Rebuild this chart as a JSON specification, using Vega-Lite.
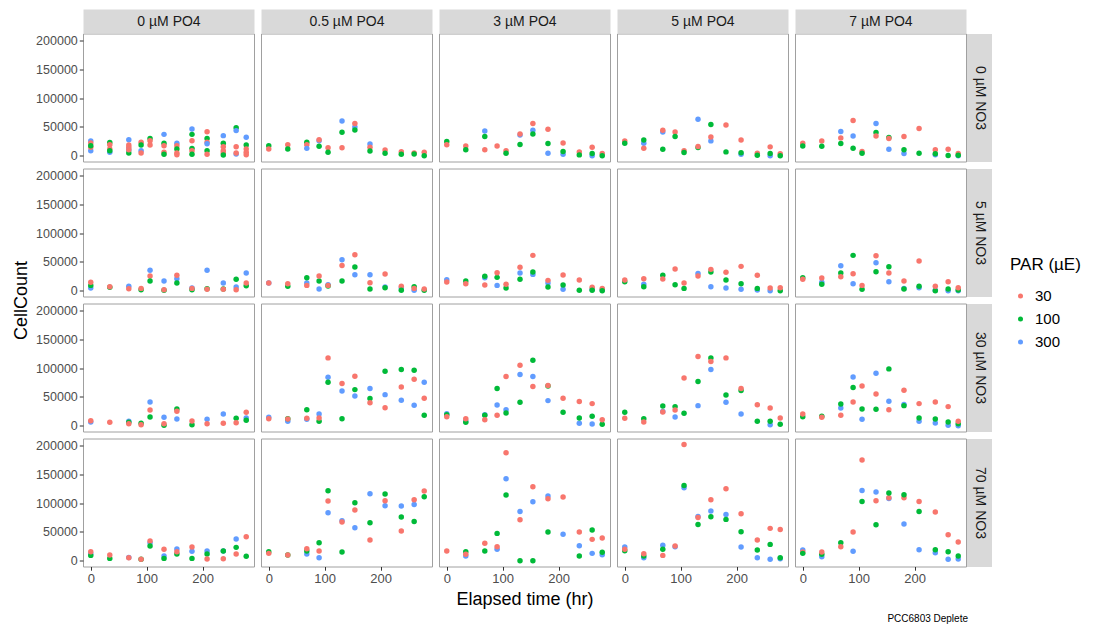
{
"$schema":"https://vega.github.io/schema/vega-lite/v6.json",
"padding":{"left":12,"top":13.5,"right":5,"bottom":4},
"background":"white",
"title":{"text":"PCC6803 Deplete","orient":"bottom","anchor":"end","fontSize":10,"fontWeight":"normal","color":"#000000","font":"Liberation Sans","offset":5,"dx":-113},
"data":{"values":[
{"P":"0","N":"0","t":0,"L":300,"c":25500},{"P":"0","N":"0","t":0,"L":300,"c":8700},{"P":"0","N":"0","t":0,"L":30,"c":22000},{"P":"0","N":"0","t":0,"L":30,"c":14500},{"P":"0","N":"0","t":0,"L":100,"c":17400},
{"P":"0","N":"0","t":34,"L":100,"c":23000},{"P":"0","N":"0","t":34,"L":30,"c":19000},{"P":"0","N":"0","t":34,"L":30,"c":11600},{"P":"0","N":"0","t":34,"L":300,"c":5800},{"P":"0","N":"0","t":34,"L":100,"c":8700},
{"P":"0","N":"0","t":68,"L":300,"c":27800},{"P":"0","N":"0","t":68,"L":30,"c":18500},{"P":"0","N":"0","t":68,"L":30,"c":14500},{"P":"0","N":"0","t":68,"L":300,"c":10000},{"P":"0","N":"0","t":68,"L":100,"c":4600},{"P":"0","N":"0","t":68,"L":30,"c":10400},
{"P":"0","N":"0","t":90,"L":30,"c":23200},{"P":"0","N":"0","t":90,"L":100,"c":18500},{"P":"0","N":"0","t":90,"L":300,"c":8700},{"P":"0","N":"0","t":90,"L":30,"c":4600},
{"P":"0","N":"0","t":106,"L":100,"c":30000},{"P":"0","N":"0","t":106,"L":30,"c":26000},{"P":"0","N":"0","t":106,"L":30,"c":18500},
{"P":"0","N":"0","t":131,"L":300,"c":37000},{"P":"0","N":"0","t":131,"L":100,"c":21400},{"P":"0","N":"0","t":131,"L":30,"c":17400},{"P":"0","N":"0","t":131,"L":30,"c":5800},{"P":"0","N":"0","t":131,"L":100,"c":2300},
{"P":"0","N":"0","t":154,"L":300,"c":21400},{"P":"0","N":"0","t":154,"L":30,"c":17400},{"P":"0","N":"0","t":154,"L":100,"c":11600},{"P":"0","N":"0","t":154,"L":30,"c":4600},{"P":"0","N":"0","t":154,"L":30,"c":1700},
{"P":"0","N":"0","t":181,"L":300,"c":46400},{"P":"0","N":"0","t":181,"L":100,"c":37000},{"P":"0","N":"0","t":181,"L":30,"c":26000},{"P":"0","N":"0","t":181,"L":100,"c":12700},{"P":"0","N":"0","t":181,"L":30,"c":8700},{"P":"0","N":"0","t":181,"L":100,"c":2300},
{"P":"0","N":"0","t":208,"L":30,"c":41700},{"P":"0","N":"0","t":208,"L":100,"c":30000},{"P":"0","N":"0","t":208,"L":30,"c":23200},{"P":"0","N":"0","t":208,"L":300,"c":20900},{"P":"0","N":"0","t":208,"L":100,"c":8700},{"P":"0","N":"0","t":208,"L":30,"c":2300},
{"P":"0","N":"0","t":237,"L":300,"c":34800},{"P":"0","N":"0","t":237,"L":100,"c":21400},{"P":"0","N":"0","t":237,"L":30,"c":15600},{"P":"0","N":"0","t":237,"L":30,"c":8700},{"P":"0","N":"0","t":237,"L":30,"c":4600},{"P":"0","N":"0","t":237,"L":100,"c":1200},
{"P":"0","N":"0","t":260,"L":100,"c":48700},{"P":"0","N":"0","t":260,"L":300,"c":43500},{"P":"0","N":"0","t":260,"L":30,"c":15600},{"P":"0","N":"0","t":260,"L":300,"c":2900},{"P":"0","N":"0","t":260,"L":30,"c":4600},
{"P":"0","N":"0","t":278,"L":300,"c":31900},{"P":"0","N":"0","t":278,"L":100,"c":18500},{"P":"0","N":"0","t":278,"L":30,"c":11600},{"P":"0","N":"0","t":278,"L":30,"c":5800},{"P":"0","N":"0","t":278,"L":30,"c":1700},

{"P":"0.5","N":"0","t":0,"L":100,"c":17400},{"P":"0.5","N":"0","t":0,"L":30,"c":11600},
{"P":"0.5","N":"0","t":34,"L":30,"c":19000},{"P":"0.5","N":"0","t":34,"L":100,"c":11600},
{"P":"0.5","N":"0","t":68,"L":100,"c":23200},{"P":"0.5","N":"0","t":68,"L":30,"c":19000},{"P":"0.5","N":"0","t":68,"L":300,"c":12700},
{"P":"0.5","N":"0","t":90,"L":300,"c":26000},{"P":"0.5","N":"0","t":90,"L":30,"c":27800},{"P":"0.5","N":"0","t":90,"L":100,"c":16200},
{"P":"0.5","N":"0","t":106,"L":30,"c":13900},{"P":"0.5","N":"0","t":106,"L":100,"c":5800},
{"P":"0.5","N":"0","t":131,"L":300,"c":60300},{"P":"0.5","N":"0","t":131,"L":100,"c":40600},{"P":"0.5","N":"0","t":131,"L":30,"c":13900},
{"P":"0.5","N":"0","t":154,"L":300,"c":49900},{"P":"0.5","N":"0","t":154,"L":30,"c":55700},{"P":"0.5","N":"0","t":154,"L":100,"c":44600},
{"P":"0.5","N":"0","t":181,"L":300,"c":20300},{"P":"0.5","N":"0","t":181,"L":30,"c":14500},{"P":"0.5","N":"0","t":181,"L":100,"c":8100},
{"P":"0.5","N":"0","t":208,"L":30,"c":9900},{"P":"0.5","N":"0","t":208,"L":100,"c":4100},
{"P":"0.5","N":"0","t":237,"L":30,"c":7000},{"P":"0.5","N":"0","t":237,"L":100,"c":2300},
{"P":"0.5","N":"0","t":260,"L":30,"c":4600},{"P":"0.5","N":"0","t":260,"L":100,"c":2900},
{"P":"0.5","N":"0","t":278,"L":30,"c":5800},{"P":"0.5","N":"0","t":278,"L":100,"c":0},

{"P":"3","N":"0","t":0,"L":100,"c":24500},{"P":"3","N":"0","t":0,"L":30,"c":18800},
{"P":"3","N":"0","t":34,"L":30,"c":17000},{"P":"3","N":"0","t":34,"L":100,"c":10100},
{"P":"3","N":"0","t":68,"L":300,"c":43000},{"P":"3","N":"0","t":68,"L":100,"c":33200},{"P":"3","N":"0","t":68,"L":30,"c":10100},
{"P":"3","N":"0","t":90,"L":30,"c":17000},
{"P":"3","N":"0","t":106,"L":30,"c":8400},{"P":"3","N":"0","t":106,"L":100,"c":4300},
{"P":"3","N":"0","t":131,"L":300,"c":36100},{"P":"3","N":"0","t":131,"L":30,"c":37800},{"P":"3","N":"0","t":131,"L":100,"c":19300},
{"P":"3","N":"0","t":154,"L":30,"c":55700},{"P":"3","N":"0","t":154,"L":300,"c":44100},{"P":"3","N":"0","t":154,"L":100,"c":37800},
{"P":"3","N":"0","t":181,"L":30,"c":45900},{"P":"3","N":"0","t":181,"L":100,"c":21100},{"P":"3","N":"0","t":181,"L":300,"c":4300},
{"P":"3","N":"0","t":208,"L":30,"c":22200},{"P":"3","N":"0","t":208,"L":300,"c":2600},{"P":"3","N":"0","t":208,"L":100,"c":7200},
{"P":"3","N":"0","t":237,"L":30,"c":6600},{"P":"3","N":"0","t":237,"L":100,"c":1400},
{"P":"3","N":"0","t":260,"L":30,"c":14700},{"P":"3","N":"0","t":260,"L":300,"c":0},{"P":"3","N":"0","t":260,"L":100,"c":3800},
{"P":"3","N":"0","t":278,"L":30,"c":3800},{"P":"3","N":"0","t":278,"L":100,"c":0},

{"P":"5","N":"0","t":0,"L":30,"c":25700},{"P":"5","N":"0","t":0,"L":100,"c":21600},
{"P":"5","N":"0","t":34,"L":300,"c":21600},{"P":"5","N":"0","t":34,"L":100,"c":27400},{"P":"5","N":"0","t":34,"L":30,"c":13000},
{"P":"5","N":"0","t":68,"L":300,"c":41300},{"P":"5","N":"0","t":68,"L":30,"c":44100},{"P":"5","N":"0","t":68,"L":100,"c":11200},
{"P":"5","N":"0","t":90,"L":30,"c":41300},{"P":"5","N":"0","t":90,"L":100,"c":33200},
{"P":"5","N":"0","t":106,"L":30,"c":8400},{"P":"5","N":"0","t":106,"L":100,"c":5500},
{"P":"5","N":"0","t":131,"L":300,"c":63200},{"P":"5","N":"0","t":131,"L":100,"c":14000},{"P":"5","N":"0","t":131,"L":30,"c":15800},
{"P":"5","N":"0","t":154,"L":300,"c":25700},{"P":"5","N":"0","t":154,"L":100,"c":54000},{"P":"5","N":"0","t":154,"L":30,"c":32600},
{"P":"5","N":"0","t":181,"L":30,"c":53400},{"P":"5","N":"0","t":181,"L":100,"c":6600},
{"P":"5","N":"0","t":208,"L":30,"c":27400},{"P":"5","N":"0","t":208,"L":300,"c":2600},{"P":"5","N":"0","t":208,"L":100,"c":4900},
{"P":"5","N":"0","t":237,"L":30,"c":4300},{"P":"5","N":"0","t":237,"L":100,"c":900},
{"P":"5","N":"0","t":260,"L":30,"c":15300},{"P":"5","N":"0","t":260,"L":300,"c":0},{"P":"5","N":"0","t":260,"L":100,"c":3800},
{"P":"5","N":"0","t":278,"L":30,"c":3200},{"P":"5","N":"0","t":278,"L":100,"c":0},

{"P":"7","N":"0","t":0,"L":30,"c":21600},{"P":"7","N":"0","t":0,"L":100,"c":17000},
{"P":"7","N":"0","t":34,"L":30,"c":25700},{"P":"7","N":"0","t":34,"L":100,"c":16400},
{"P":"7","N":"0","t":68,"L":300,"c":41800},{"P":"7","N":"0","t":68,"L":30,"c":30900},{"P":"7","N":"0","t":68,"L":100,"c":21100},
{"P":"7","N":"0","t":90,"L":30,"c":60900},{"P":"7","N":"0","t":90,"L":300,"c":34300},{"P":"7","N":"0","t":90,"L":100,"c":13000},
{"P":"7","N":"0","t":106,"L":30,"c":7200},{"P":"7","N":"0","t":106,"L":100,"c":4300},
{"P":"7","N":"0","t":131,"L":300,"c":55700},{"P":"7","N":"0","t":131,"L":100,"c":40100},{"P":"7","N":"0","t":131,"L":30,"c":34300},
{"P":"7","N":"0","t":154,"L":100,"c":31500},{"P":"7","N":"0","t":154,"L":30,"c":29700},{"P":"7","N":"0","t":154,"L":300,"c":11200},
{"P":"7","N":"0","t":181,"L":30,"c":33200},{"P":"7","N":"0","t":181,"L":300,"c":3800},{"P":"7","N":"0","t":181,"L":100,"c":10100},
{"P":"7","N":"0","t":208,"L":30,"c":47000},{"P":"7","N":"0","t":208,"L":100,"c":4300},
{"P":"7","N":"0","t":237,"L":300,"c":1500},{"P":"7","N":"0","t":237,"L":30,"c":10100},{"P":"7","N":"0","t":237,"L":100,"c":3200},
{"P":"7","N":"0","t":260,"L":30,"c":11200},{"P":"7","N":"0","t":260,"L":100,"c":300},
{"P":"7","N":"0","t":278,"L":300,"c":0},{"P":"7","N":"0","t":278,"L":30,"c":3800},{"P":"7","N":"0","t":278,"L":100,"c":900},

{"P":"0","N":"5","t":0,"L":300,"c":4600},{"P":"0","N":"5","t":0,"L":100,"c":9200},{"P":"0","N":"5","t":0,"L":30,"c":14500},
{"P":"0","N":"5","t":34,"L":100,"c":5800},{"P":"0","N":"5","t":34,"L":30,"c":6900},
{"P":"0","N":"5","t":68,"L":300,"c":7500},{"P":"0","N":"5","t":68,"L":30,"c":3500},
{"P":"0","N":"5","t":90,"L":100,"c":1700},{"P":"0","N":"5","t":90,"L":30,"c":4000},
{"P":"0","N":"5","t":106,"L":300,"c":35300},{"P":"0","N":"5","t":106,"L":30,"c":25400},{"P":"0","N":"5","t":106,"L":100,"c":16800},
{"P":"0","N":"5","t":131,"L":300,"c":16800},{"P":"0","N":"5","t":131,"L":100,"c":600},{"P":"0","N":"5","t":131,"L":30,"c":1700},
{"P":"0","N":"5","t":154,"L":300,"c":20800},{"P":"0","N":"5","t":154,"L":30,"c":26600},{"P":"0","N":"5","t":154,"L":100,"c":13300},
{"P":"0","N":"5","t":181,"L":300,"c":4600},{"P":"0","N":"5","t":181,"L":100,"c":1700},{"P":"0","N":"5","t":181,"L":30,"c":4000},
{"P":"0","N":"5","t":208,"L":300,"c":35300},{"P":"0","N":"5","t":208,"L":100,"c":3500},{"P":"0","N":"5","t":208,"L":30,"c":2300},
{"P":"0","N":"5","t":237,"L":300,"c":13300},{"P":"0","N":"5","t":237,"L":100,"c":2900},{"P":"0","N":"5","t":237,"L":30,"c":2300},
{"P":"0","N":"5","t":260,"L":300,"c":6400},{"P":"0","N":"5","t":260,"L":100,"c":19700},{"P":"0","N":"5","t":260,"L":30,"c":1700},
{"P":"0","N":"5","t":278,"L":300,"c":30600},{"P":"0","N":"5","t":278,"L":100,"c":8700},{"P":"0","N":"5","t":278,"L":30,"c":13300},

{"P":"0.5","N":"5","t":0,"L":300,"c":13500},{"P":"0.5","N":"5","t":0,"L":30,"c":13300},
{"P":"0.5","N":"5","t":34,"L":100,"c":7500},{"P":"0.5","N":"5","t":34,"L":30,"c":12100},
{"P":"0.5","N":"5","t":68,"L":300,"c":13300},{"P":"0.5","N":"5","t":68,"L":100,"c":22500},{"P":"0.5","N":"5","t":68,"L":30,"c":9200},
{"P":"0.5","N":"5","t":90,"L":300,"c":2900},{"P":"0.5","N":"5","t":90,"L":100,"c":16800},{"P":"0.5","N":"5","t":90,"L":30,"c":25400},
{"P":"0.5","N":"5","t":106,"L":300,"c":10400},{"P":"0.5","N":"5","t":106,"L":100,"c":8000},{"P":"0.5","N":"5","t":106,"L":30,"c":9200},
{"P":"0.5","N":"5","t":131,"L":300,"c":53800},{"P":"0.5","N":"5","t":131,"L":30,"c":43900},{"P":"0.5","N":"5","t":131,"L":100,"c":16800},
{"P":"0.5","N":"5","t":154,"L":300,"c":27700},{"P":"0.5","N":"5","t":154,"L":100,"c":41000},{"P":"0.5","N":"5","t":154,"L":30,"c":62400},
{"P":"0.5","N":"5","t":181,"L":300,"c":27700},{"P":"0.5","N":"5","t":181,"L":30,"c":13900},{"P":"0.5","N":"5","t":181,"L":100,"c":2900},
{"P":"0.5","N":"5","t":208,"L":300,"c":6400},{"P":"0.5","N":"5","t":208,"L":100,"c":5200},{"P":"0.5","N":"5","t":208,"L":30,"c":28900},
{"P":"0.5","N":"5","t":237,"L":300,"c":4600},{"P":"0.5","N":"5","t":237,"L":30,"c":7500},{"P":"0.5","N":"5","t":237,"L":100,"c":600},
{"P":"0.5","N":"5","t":260,"L":300,"c":600},{"P":"0.5","N":"5","t":260,"L":100,"c":6900},{"P":"0.5","N":"5","t":260,"L":30,"c":4000},
{"P":"0.5","N":"5","t":278,"L":100,"c":600},{"P":"0.5","N":"5","t":278,"L":30,"c":2900},

{"P":"3","N":"5","t":0,"L":300,"c":19100},{"P":"3","N":"5","t":0,"L":30,"c":15000},
{"P":"3","N":"5","t":34,"L":100,"c":16800},{"P":"3","N":"5","t":34,"L":30,"c":12100},
{"P":"3","N":"5","t":68,"L":300,"c":22500},{"P":"3","N":"5","t":68,"L":100,"c":24900},{"P":"3","N":"5","t":68,"L":30,"c":9800},
{"P":"3","N":"5","t":90,"L":300,"c":9200},{"P":"3","N":"5","t":90,"L":100,"c":23100},{"P":"3","N":"5","t":90,"L":30,"c":31200},
{"P":"3","N":"5","t":106,"L":100,"c":4600},{"P":"3","N":"5","t":106,"L":30,"c":11000},
{"P":"3","N":"5","t":131,"L":300,"c":30600},{"P":"3","N":"5","t":131,"L":100,"c":19700},{"P":"3","N":"5","t":131,"L":30,"c":40500},
{"P":"3","N":"5","t":154,"L":300,"c":28300},{"P":"3","N":"5","t":154,"L":100,"c":32400},{"P":"3","N":"5","t":154,"L":30,"c":61300},
{"P":"3","N":"5","t":181,"L":300,"c":13300},{"P":"3","N":"5","t":181,"L":100,"c":6400},{"P":"3","N":"5","t":181,"L":30,"c":17900},
{"P":"3","N":"5","t":208,"L":300,"c":2300},{"P":"3","N":"5","t":208,"L":100,"c":9800},{"P":"3","N":"5","t":208,"L":30,"c":27200},
{"P":"3","N":"5","t":237,"L":30,"c":18500},{"P":"3","N":"5","t":237,"L":100,"c":600},
{"P":"3","N":"5","t":260,"L":300,"c":2300},{"P":"3","N":"5","t":260,"L":30,"c":5800},{"P":"3","N":"5","t":260,"L":100,"c":600},
{"P":"3","N":"5","t":278,"L":300,"c":1800},{"P":"3","N":"5","t":278,"L":30,"c":4000},{"P":"3","N":"5","t":278,"L":100,"c":0},

{"P":"5","N":"5","t":0,"L":100,"c":15600},{"P":"5","N":"5","t":0,"L":30,"c":18500},
{"P":"5","N":"5","t":34,"L":300,"c":11000},{"P":"5","N":"5","t":34,"L":100,"c":6900},{"P":"5","N":"5","t":34,"L":30,"c":20800},
{"P":"5","N":"5","t":68,"L":100,"c":26600},{"P":"5","N":"5","t":68,"L":30,"c":20200},
{"P":"5","N":"5","t":90,"L":100,"c":10400},{"P":"5","N":"5","t":90,"L":30,"c":37600},
{"P":"5","N":"5","t":106,"L":100,"c":4000},{"P":"5","N":"5","t":106,"L":30,"c":13300},
{"P":"5","N":"5","t":131,"L":300,"c":30000},{"P":"5","N":"5","t":131,"L":30,"c":25400},
{"P":"5","N":"5","t":154,"L":300,"c":6900},{"P":"5","N":"5","t":154,"L":100,"c":32400},{"P":"5","N":"5","t":154,"L":30,"c":37000},
{"P":"5","N":"5","t":181,"L":300,"c":4600},{"P":"5","N":"5","t":181,"L":100,"c":18500},{"P":"5","N":"5","t":181,"L":30,"c":31800},
{"P":"5","N":"5","t":208,"L":300,"c":2300},{"P":"5","N":"5","t":208,"L":100,"c":12100},{"P":"5","N":"5","t":208,"L":30,"c":42200},
{"P":"5","N":"5","t":237,"L":300,"c":1200},{"P":"5","N":"5","t":237,"L":100,"c":4000},{"P":"5","N":"5","t":237,"L":30,"c":26600},
{"P":"5","N":"5","t":260,"L":300,"c":0},{"P":"5","N":"5","t":260,"L":30,"c":4600},
{"P":"5","N":"5","t":278,"L":100,"c":0},{"P":"5","N":"5","t":278,"L":30,"c":5200},

{"P":"7","N":"5","t":0,"L":100,"c":22500},{"P":"7","N":"5","t":0,"L":30,"c":19700},
{"P":"7","N":"5","t":34,"L":300,"c":14500},{"P":"7","N":"5","t":34,"L":100,"c":11000},{"P":"7","N":"5","t":34,"L":30,"c":22000},
{"P":"7","N":"5","t":68,"L":300,"c":43300},{"P":"7","N":"5","t":68,"L":100,"c":30600},{"P":"7","N":"5","t":68,"L":30,"c":24300},
{"P":"7","N":"5","t":90,"L":300,"c":12100},{"P":"7","N":"5","t":90,"L":100,"c":61300},{"P":"7","N":"5","t":90,"L":30,"c":29500},
{"P":"7","N":"5","t":106,"L":100,"c":2300},{"P":"7","N":"5","t":106,"L":30,"c":9200},
{"P":"7","N":"5","t":131,"L":300,"c":48600},{"P":"7","N":"5","t":131,"L":100,"c":32900},{"P":"7","N":"5","t":131,"L":30,"c":60700},
{"P":"7","N":"5","t":154,"L":300,"c":15600},{"P":"7","N":"5","t":154,"L":100,"c":41600},{"P":"7","N":"5","t":154,"L":30,"c":30600},
{"P":"7","N":"5","t":181,"L":300,"c":4000},{"P":"7","N":"5","t":181,"L":100,"c":2900},{"P":"7","N":"5","t":181,"L":30,"c":16800},
{"P":"7","N":"5","t":208,"L":300,"c":5200},{"P":"7","N":"5","t":208,"L":100,"c":7500},{"P":"7","N":"5","t":208,"L":30,"c":51400},
{"P":"7","N":"5","t":237,"L":300,"c":600},{"P":"7","N":"5","t":237,"L":100,"c":0},{"P":"7","N":"5","t":237,"L":30,"c":7500},
{"P":"7","N":"5","t":260,"L":300,"c":0},{"P":"7","N":"5","t":260,"L":100,"c":2900},{"P":"7","N":"5","t":260,"L":30,"c":15600},
{"P":"7","N":"5","t":278,"L":300,"c":0},{"P":"7","N":"5","t":278,"L":100,"c":1200},{"P":"7","N":"5","t":278,"L":30,"c":5200},

{"P":"0","N":"30","t":0,"L":300,"c":6400},{"P":"0","N":"30","t":0,"L":30,"c":8700},
{"P":"0","N":"30","t":34,"L":30,"c":5800},
{"P":"0","N":"30","t":68,"L":300,"c":7500},{"P":"0","N":"30","t":68,"L":100,"c":5800},{"P":"0","N":"30","t":68,"L":30,"c":3500},
{"P":"0","N":"30","t":90,"L":100,"c":4100},{"P":"0","N":"30","t":90,"L":30,"c":1700},
{"P":"0","N":"30","t":106,"L":300,"c":41200},{"P":"0","N":"30","t":106,"L":30,"c":27300},{"P":"0","N":"30","t":106,"L":100,"c":15100},
{"P":"0","N":"30","t":131,"L":300,"c":14500},{"P":"0","N":"30","t":131,"L":100,"c":600},{"P":"0","N":"30","t":131,"L":30,"c":3500},
{"P":"0","N":"30","t":154,"L":300,"c":11600},{"P":"0","N":"30","t":154,"L":100,"c":29000},{"P":"0","N":"30","t":154,"L":30,"c":24900},
{"P":"0","N":"30","t":181,"L":100,"c":1700},{"P":"0","N":"30","t":181,"L":30,"c":8100},
{"P":"0","N":"30","t":208,"L":300,"c":11000},{"P":"0","N":"30","t":208,"L":30,"c":3500},
{"P":"0","N":"30","t":237,"L":300,"c":20300},{"P":"0","N":"30","t":237,"L":30,"c":4100},
{"P":"0","N":"30","t":260,"L":100,"c":12800},{"P":"0","N":"30","t":260,"L":30,"c":5200},
{"P":"0","N":"30","t":278,"L":300,"c":13300},{"P":"0","N":"30","t":278,"L":100,"c":9300},{"P":"0","N":"30","t":278,"L":30,"c":23200},

{"P":"0.5","N":"30","t":0,"L":300,"c":14500},{"P":"0.5","N":"30","t":0,"L":30,"c":12200},
{"P":"0.5","N":"30","t":34,"L":300,"c":7500},{"P":"0.5","N":"30","t":34,"L":100,"c":12200},{"P":"0.5","N":"30","t":34,"L":30,"c":11600},
{"P":"0.5","N":"30","t":68,"L":300,"c":11000},{"P":"0.5","N":"30","t":68,"L":100,"c":27800},{"P":"0.5","N":"30","t":68,"L":30,"c":12800},
{"P":"0.5","N":"30","t":90,"L":300,"c":20300},{"P":"0.5","N":"30","t":90,"L":100,"c":7500},{"P":"0.5","N":"30","t":90,"L":30,"c":13300},
{"P":"0.5","N":"30","t":106,"L":300,"c":84100},{"P":"0.5","N":"30","t":106,"L":100,"c":75400},{"P":"0.5","N":"30","t":106,"L":30,"c":117700},
{"P":"0.5","N":"30","t":131,"L":300,"c":60300},{"P":"0.5","N":"30","t":131,"L":100,"c":12200},{"P":"0.5","N":"30","t":131,"L":30,"c":73100},
{"P":"0.5","N":"30","t":154,"L":300,"c":51600},{"P":"0.5","N":"30","t":154,"L":100,"c":62600},{"P":"0.5","N":"30","t":154,"L":30,"c":85800},
{"P":"0.5","N":"30","t":181,"L":300,"c":64400},{"P":"0.5","N":"30","t":181,"L":100,"c":47000},{"P":"0.5","N":"30","t":181,"L":30,"c":40000},
{"P":"0.5","N":"30","t":208,"L":300,"c":53900},{"P":"0.5","N":"30","t":208,"L":100,"c":94500},{"P":"0.5","N":"30","t":208,"L":30,"c":31300},
{"P":"0.5","N":"30","t":237,"L":300,"c":44100},{"P":"0.5","N":"30","t":237,"L":100,"c":97400},{"P":"0.5","N":"30","t":237,"L":30,"c":67300},
{"P":"0.5","N":"30","t":260,"L":300,"c":35400},{"P":"0.5","N":"30","t":260,"L":100,"c":96300},{"P":"0.5","N":"30","t":260,"L":30,"c":80600},
{"P":"0.5","N":"30","t":278,"L":300,"c":75400},{"P":"0.5","N":"30","t":278,"L":100,"c":18000},{"P":"0.5","N":"30","t":278,"L":30,"c":47600},

{"P":"3","N":"30","t":0,"L":300,"c":20900},{"P":"3","N":"30","t":0,"L":100,"c":19100},{"P":"3","N":"30","t":0,"L":30,"c":15700},
{"P":"3","N":"30","t":34,"L":300,"c":8000},{"P":"3","N":"30","t":34,"L":100,"c":5800},{"P":"3","N":"30","t":34,"L":30,"c":12200},
{"P":"3","N":"30","t":68,"L":300,"c":19100},{"P":"3","N":"30","t":68,"L":100,"c":18000},{"P":"3","N":"30","t":68,"L":30,"c":10400},
{"P":"3","N":"30","t":90,"L":300,"c":36000},{"P":"3","N":"30","t":90,"L":100,"c":64400},{"P":"3","N":"30","t":90,"L":30,"c":18000},
{"P":"3","N":"30","t":106,"L":300,"c":27800},{"P":"3","N":"30","t":106,"L":100,"c":22000},{"P":"3","N":"30","t":106,"L":30,"c":85300},
{"P":"3","N":"30","t":131,"L":300,"c":88700},{"P":"3","N":"30","t":131,"L":100,"c":40600},{"P":"3","N":"30","t":131,"L":30,"c":105000},
{"P":"3","N":"30","t":154,"L":300,"c":85300},{"P":"3","N":"30","t":154,"L":100,"c":113700},{"P":"3","N":"30","t":154,"L":30,"c":67900},
{"P":"3","N":"30","t":181,"L":300,"c":43500},{"P":"3","N":"30","t":181,"L":100,"c":69000},{"P":"3","N":"30","t":181,"L":30,"c":69600},
{"P":"3","N":"30","t":208,"L":100,"c":23200},{"P":"3","N":"30","t":208,"L":30,"c":47600},
{"P":"3","N":"30","t":237,"L":300,"c":4100},{"P":"3","N":"30","t":237,"L":100,"c":13300},{"P":"3","N":"30","t":237,"L":30,"c":41800},
{"P":"3","N":"30","t":260,"L":300,"c":2900},{"P":"3","N":"30","t":260,"L":100,"c":16200},{"P":"3","N":"30","t":260,"L":30,"c":38300},
{"P":"3","N":"30","t":278,"L":100,"c":2300},{"P":"3","N":"30","t":278,"L":30,"c":10400},

{"P":"5","N":"30","t":0,"L":100,"c":23200},{"P":"5","N":"30","t":0,"L":30,"c":12800},
{"P":"5","N":"30","t":34,"L":100,"c":12200},{"P":"5","N":"30","t":34,"L":30,"c":6400},
{"P":"5","N":"30","t":68,"L":300,"c":24500},{"P":"5","N":"30","t":68,"L":100,"c":34200},{"P":"5","N":"30","t":68,"L":30,"c":23800},
{"P":"5","N":"30","t":90,"L":300,"c":15100},{"P":"5","N":"30","t":90,"L":100,"c":33100},{"P":"5","N":"30","t":90,"L":30,"c":27300},
{"P":"5","N":"30","t":106,"L":100,"c":21500},{"P":"5","N":"30","t":106,"L":30,"c":82900},
{"P":"5","N":"30","t":131,"L":300,"c":34800},{"P":"5","N":"30","t":131,"L":100,"c":76600},{"P":"5","N":"30","t":131,"L":30,"c":120100},
{"P":"5","N":"30","t":154,"L":300,"c":97400},{"P":"5","N":"30","t":154,"L":100,"c":117700},{"P":"5","N":"30","t":154,"L":30,"c":111400},
{"P":"5","N":"30","t":181,"L":300,"c":40600},{"P":"5","N":"30","t":181,"L":100,"c":53400},{"P":"5","N":"30","t":181,"L":30,"c":117700},
{"P":"5","N":"30","t":208,"L":300,"c":20300},{"P":"5","N":"30","t":208,"L":100,"c":60900},{"P":"5","N":"30","t":208,"L":30,"c":64400},
{"P":"5","N":"30","t":237,"L":100,"c":7500},{"P":"5","N":"30","t":237,"L":30,"c":36500},
{"P":"5","N":"30","t":260,"L":300,"c":1700},{"P":"5","N":"30","t":260,"L":100,"c":7500},{"P":"5","N":"30","t":260,"L":30,"c":30700},
{"P":"5","N":"30","t":278,"L":100,"c":2300},{"P":"5","N":"30","t":278,"L":30,"c":13300},

{"P":"7","N":"30","t":0,"L":100,"c":15700},{"P":"7","N":"30","t":0,"L":30,"c":20300},
{"P":"7","N":"30","t":34,"L":100,"c":16200},{"P":"7","N":"30","t":34,"L":30,"c":14500},
{"P":"7","N":"30","t":68,"L":300,"c":30700},{"P":"7","N":"30","t":68,"L":100,"c":37700},{"P":"7","N":"30","t":68,"L":30,"c":18000},
{"P":"7","N":"30","t":90,"L":300,"c":84700},{"P":"7","N":"30","t":90,"L":100,"c":66100},{"P":"7","N":"30","t":90,"L":30,"c":41200},
{"P":"7","N":"30","t":106,"L":300,"c":11000},{"P":"7","N":"30","t":106,"L":100,"c":29000},{"P":"7","N":"30","t":106,"L":30,"c":69000},
{"P":"7","N":"30","t":131,"L":300,"c":91100},{"P":"7","N":"30","t":131,"L":100,"c":28400},{"P":"7","N":"30","t":131,"L":30,"c":55100},
{"P":"7","N":"30","t":154,"L":300,"c":42300},{"P":"7","N":"30","t":154,"L":100,"c":98600},{"P":"7","N":"30","t":154,"L":30,"c":27800},
{"P":"7","N":"30","t":181,"L":300,"c":37000},{"P":"7","N":"30","t":181,"L":100,"c":34800},{"P":"7","N":"30","t":181,"L":30,"c":61500},
{"P":"7","N":"30","t":208,"L":300,"c":7500},{"P":"7","N":"30","t":208,"L":100,"c":13300},{"P":"7","N":"30","t":208,"L":30,"c":38300},
{"P":"7","N":"30","t":237,"L":300,"c":4600},{"P":"7","N":"30","t":237,"L":100,"c":11600},{"P":"7","N":"30","t":237,"L":30,"c":41200},
{"P":"7","N":"30","t":260,"L":300,"c":600},{"P":"7","N":"30","t":260,"L":100,"c":6400},{"P":"7","N":"30","t":260,"L":30,"c":33100},
{"P":"7","N":"30","t":278,"L":300,"c":0},{"P":"7","N":"30","t":278,"L":100,"c":3500},{"P":"7","N":"30","t":278,"L":30,"c":7500},

{"P":"0","N":"70","t":0,"L":300,"c":12000},{"P":"0","N":"70","t":0,"L":100,"c":9200},{"P":"0","N":"70","t":0,"L":30,"c":15600},
{"P":"0","N":"70","t":34,"L":100,"c":4000},{"P":"0","N":"70","t":34,"L":30,"c":9800},
{"P":"0","N":"70","t":68,"L":300,"c":5500},{"P":"0","N":"70","t":68,"L":30,"c":5200},
{"P":"0","N":"70","t":90,"L":100,"c":2300},{"P":"0","N":"70","t":90,"L":30,"c":2300},
{"P":"0","N":"70","t":106,"L":300,"c":31200},{"P":"0","N":"70","t":106,"L":30,"c":34100},{"P":"0","N":"70","t":106,"L":100,"c":25400},
{"P":"0","N":"70","t":131,"L":300,"c":8100},{"P":"0","N":"70","t":131,"L":100,"c":4000},{"P":"0","N":"70","t":131,"L":30,"c":19700},
{"P":"0","N":"70","t":154,"L":300,"c":20200},{"P":"0","N":"70","t":154,"L":100,"c":11600},{"P":"0","N":"70","t":154,"L":30,"c":15600},
{"P":"0","N":"70","t":181,"L":300,"c":16200},{"P":"0","N":"70","t":181,"L":100,"c":4000},{"P":"0","N":"70","t":181,"L":30,"c":23700},
{"P":"0","N":"70","t":208,"L":300,"c":16800},{"P":"0","N":"70","t":208,"L":100,"c":11600},{"P":"0","N":"70","t":208,"L":30,"c":2900},
{"P":"0","N":"70","t":237,"L":300,"c":16800},{"P":"0","N":"70","t":237,"L":100,"c":16800},{"P":"0","N":"70","t":237,"L":30,"c":3500},
{"P":"0","N":"70","t":260,"L":300,"c":37600},{"P":"0","N":"70","t":260,"L":100,"c":23100},{"P":"0","N":"70","t":260,"L":30,"c":11600},
{"P":"0","N":"70","t":278,"L":100,"c":7500},{"P":"0","N":"70","t":278,"L":30,"c":41600},

{"P":"0.5","N":"70","t":0,"L":100,"c":15600},{"P":"0.5","N":"70","t":0,"L":30,"c":12700},
{"P":"0.5","N":"70","t":34,"L":100,"c":10000},{"P":"0.5","N":"70","t":34,"L":30,"c":9800},
{"P":"0.5","N":"70","t":68,"L":300,"c":11600},{"P":"0.5","N":"70","t":68,"L":100,"c":17000},{"P":"0.5","N":"70","t":68,"L":30,"c":20800},
{"P":"0.5","N":"70","t":90,"L":300,"c":5200},{"P":"0.5","N":"70","t":90,"L":100,"c":31200},{"P":"0.5","N":"70","t":90,"L":30,"c":16800},
{"P":"0.5","N":"70","t":106,"L":300,"c":83200},{"P":"0.5","N":"70","t":106,"L":100,"c":121400},{"P":"0.5","N":"70","t":106,"L":30,"c":103500},
{"P":"0.5","N":"70","t":131,"L":300,"c":69400},{"P":"0.5","N":"70","t":131,"L":100,"c":15000},{"P":"0.5","N":"70","t":131,"L":30,"c":67000},
{"P":"0.5","N":"70","t":154,"L":300,"c":57200},{"P":"0.5","N":"70","t":154,"L":100,"c":100600},{"P":"0.5","N":"70","t":154,"L":30,"c":87900},
{"P":"0.5","N":"70","t":181,"L":300,"c":116200},{"P":"0.5","N":"70","t":181,"L":100,"c":65900},{"P":"0.5","N":"70","t":181,"L":30,"c":35800},
{"P":"0.5","N":"70","t":208,"L":300,"c":95400},{"P":"0.5","N":"70","t":208,"L":100,"c":115600},{"P":"0.5","N":"70","t":208,"L":30,"c":104000},
{"P":"0.5","N":"70","t":237,"L":300,"c":94800},{"P":"0.5","N":"70","t":237,"L":100,"c":75700},{"P":"0.5","N":"70","t":237,"L":30,"c":51400},
{"P":"0.5","N":"70","t":260,"L":300,"c":97700},{"P":"0.5","N":"70","t":260,"L":100,"c":68200},{"P":"0.5","N":"70","t":260,"L":30,"c":105800},
{"P":"0.5","N":"70","t":278,"L":100,"c":111000},{"P":"0.5","N":"70","t":278,"L":30,"c":120800},

{"P":"3","N":"70","t":0,"L":30,"c":16800},
{"P":"3","N":"70","t":34,"L":300,"c":8100},{"P":"3","N":"70","t":34,"L":100,"c":15600},{"P":"3","N":"70","t":34,"L":30,"c":11000},
{"P":"3","N":"70","t":68,"L":100,"c":16800},{"P":"3","N":"70","t":68,"L":30,"c":30100},
{"P":"3","N":"70","t":90,"L":300,"c":19700},{"P":"3","N":"70","t":90,"L":100,"c":47400},{"P":"3","N":"70","t":90,"L":30,"c":24300},
{"P":"3","N":"70","t":106,"L":300,"c":142200},{"P":"3","N":"70","t":106,"L":100,"c":113900},{"P":"3","N":"70","t":106,"L":30,"c":187300},
{"P":"3","N":"70","t":131,"L":300,"c":85500},{"P":"3","N":"70","t":131,"L":100,"c":0},{"P":"3","N":"70","t":131,"L":30,"c":71100},
{"P":"3","N":"70","t":154,"L":300,"c":102300},{"P":"3","N":"70","t":154,"L":100,"c":0},{"P":"3","N":"70","t":154,"L":30,"c":128300},
{"P":"3","N":"70","t":181,"L":300,"c":112100},{"P":"3","N":"70","t":181,"L":100,"c":49700},{"P":"3","N":"70","t":181,"L":30,"c":107500},
{"P":"3","N":"70","t":208,"L":300,"c":45700},{"P":"3","N":"70","t":208,"L":30,"c":110400},
{"P":"3","N":"70","t":237,"L":300,"c":26000},{"P":"3","N":"70","t":237,"L":100,"c":8100},{"P":"3","N":"70","t":237,"L":30,"c":49700},
{"P":"3","N":"70","t":260,"L":300,"c":12700},{"P":"3","N":"70","t":260,"L":100,"c":53200},{"P":"3","N":"70","t":260,"L":30,"c":37000},
{"P":"3","N":"70","t":278,"L":300,"c":10400},{"P":"3","N":"70","t":278,"L":100,"c":14500},{"P":"3","N":"70","t":278,"L":30,"c":39300},

{"P":"5","N":"70","t":0,"L":300,"c":23700},{"P":"5","N":"70","t":0,"L":100,"c":17300},{"P":"5","N":"70","t":0,"L":30,"c":19700},
{"P":"5","N":"70","t":34,"L":300,"c":5200},{"P":"5","N":"70","t":34,"L":100,"c":8100},{"P":"5","N":"70","t":34,"L":30,"c":12100},
{"P":"5","N":"70","t":68,"L":300,"c":26600},{"P":"5","N":"70","t":68,"L":100,"c":19700},{"P":"5","N":"70","t":68,"L":30,"c":9200},
{"P":"5","N":"70","t":90,"L":300,"c":24000},{"P":"5","N":"70","t":90,"L":30,"c":25400},
{"P":"5","N":"70","t":106,"L":300,"c":126600},{"P":"5","N":"70","t":106,"L":100,"c":130600},{"P":"5","N":"70","t":106,"L":30,"c":201700},
{"P":"5","N":"70","t":131,"L":300,"c":76900},{"P":"5","N":"70","t":131,"L":30,"c":75100},{"P":"5","N":"70","t":131,"L":100,"c":63000},
{"P":"5","N":"70","t":154,"L":300,"c":86100},{"P":"5","N":"70","t":154,"L":100,"c":76300},{"P":"5","N":"70","t":154,"L":30,"c":105800},
{"P":"5","N":"70","t":181,"L":300,"c":80300},{"P":"5","N":"70","t":181,"L":100,"c":71700},{"P":"5","N":"70","t":181,"L":30,"c":124800},
{"P":"5","N":"70","t":208,"L":300,"c":23700},{"P":"5","N":"70","t":208,"L":100,"c":50300},{"P":"5","N":"70","t":208,"L":30,"c":81500},
{"P":"5","N":"70","t":237,"L":300,"c":5200},{"P":"5","N":"70","t":237,"L":100,"c":18500},{"P":"5","N":"70","t":237,"L":30,"c":35800},
{"P":"5","N":"70","t":260,"L":300,"c":2300},{"P":"5","N":"70","t":260,"L":100,"c":28300},{"P":"5","N":"70","t":260,"L":30,"c":56100},
{"P":"5","N":"70","t":278,"L":300,"c":3500},{"P":"5","N":"70","t":278,"L":100,"c":5200},{"P":"5","N":"70","t":278,"L":30,"c":54300},

{"P":"7","N":"70","t":0,"L":300,"c":18500},{"P":"7","N":"70","t":0,"L":30,"c":15000},{"P":"7","N":"70","t":0,"L":100,"c":12700},
{"P":"7","N":"70","t":34,"L":300,"c":6900},{"P":"7","N":"70","t":34,"L":100,"c":11000},{"P":"7","N":"70","t":34,"L":30,"c":15000},
{"P":"7","N":"70","t":68,"L":100,"c":31200},{"P":"7","N":"70","t":68,"L":30,"c":24300},
{"P":"7","N":"70","t":90,"L":300,"c":16200},{"P":"7","N":"70","t":90,"L":30,"c":49700},
{"P":"7","N":"70","t":106,"L":300,"c":122000},{"P":"7","N":"70","t":106,"L":100,"c":102900},{"P":"7","N":"70","t":106,"L":30,"c":174600},
{"P":"7","N":"70","t":131,"L":300,"c":119100},{"P":"7","N":"70","t":131,"L":100,"c":62400},{"P":"7","N":"70","t":131,"L":30,"c":104000},
{"P":"7","N":"70","t":154,"L":300,"c":108100},{"P":"7","N":"70","t":154,"L":30,"c":109200},{"P":"7","N":"70","t":154,"L":100,"c":117300},
{"P":"7","N":"70","t":181,"L":300,"c":63600},{"P":"7","N":"70","t":181,"L":30,"c":109200},{"P":"7","N":"70","t":181,"L":100,"c":114400},
{"P":"7","N":"70","t":208,"L":300,"c":19100},{"P":"7","N":"70","t":208,"L":100,"c":85500},{"P":"7","N":"70","t":208,"L":30,"c":102900},
{"P":"7","N":"70","t":237,"L":300,"c":13900},{"P":"7","N":"70","t":237,"L":100,"c":19100},{"P":"7","N":"70","t":237,"L":30,"c":84400},
{"P":"7","N":"70","t":260,"L":300,"c":2300},{"P":"7","N":"70","t":260,"L":100,"c":15600},{"P":"7","N":"70","t":260,"L":30,"c":45100},
{"P":"7","N":"70","t":278,"L":300,"c":3000},{"P":"7","N":"70","t":278,"L":100,"c":8100},{"P":"7","N":"70","t":278,"L":30,"c":32400}
]},
"columns":5,
"bounds":"flush",
"spacing":{"row":7,"column":7},
"resolve":{"scale":{"x":"independent","y":"independent"}},
"concat":[
{"width":171,"height":128,"transform":[{"filter":"datum.P=='0'&&datum.N=='0'"}],"mark":{"type":"circle","size":30,"opacity":1},"encoding":{"x":{"field":"t","type":"quantitative","scale":{"domain":[-13.9,291.9],"nice":false,"zero":false},"axis":{"orient":"top","labels":false,"ticks":false,"domain":true,"domainColor":"#D9D9D9","domainWidth":24,"offset":12.5,"title":"0 µM PO4","titleY":0,"titleBaseline":"middle","titleFontSize":14,"titleColor":"#1A1A1A"}},"y":{"field":"c","type":"quantitative","scale":{"domain":[-10100,212100],"nice":false,"zero":false},"axis":{"orient":"left","values":[0,50000,100000,150000,200000],"format":"d","title":null}},"color":{"field":"L","type":"nominal","title":"PAR (µE)","scale":{"domain":[30,100,300],"range":["#F8766D","#00BA38","#619CFF"]}}}},
{"width":171,"height":128,"transform":[{"filter":"datum.P=='0.5'&&datum.N=='0'"}],"mark":{"type":"circle","size":30,"opacity":1},"encoding":{"x":{"field":"t","type":"quantitative","scale":{"domain":[-13.9,291.9],"nice":false,"zero":false},"axis":{"orient":"top","labels":false,"ticks":false,"domain":true,"domainColor":"#D9D9D9","domainWidth":24,"offset":12.5,"title":"0.5 µM PO4","titleY":0,"titleBaseline":"middle","titleFontSize":14,"titleColor":"#1A1A1A"}},"y":{"field":"c","type":"quantitative","scale":{"domain":[-10100,212100],"nice":false,"zero":false},"axis":null},"color":{"field":"L","type":"nominal","title":"PAR (µE)","scale":{"domain":[30,100,300],"range":["#F8766D","#00BA38","#619CFF"]}}}},
{"width":171,"height":128,"transform":[{"filter":"datum.P=='3'&&datum.N=='0'"}],"mark":{"type":"circle","size":30,"opacity":1},"encoding":{"x":{"field":"t","type":"quantitative","scale":{"domain":[-13.9,291.9],"nice":false,"zero":false},"axis":{"orient":"top","labels":false,"ticks":false,"domain":true,"domainColor":"#D9D9D9","domainWidth":24,"offset":12.5,"title":"3 µM PO4","titleY":0,"titleBaseline":"middle","titleFontSize":14,"titleColor":"#1A1A1A"}},"y":{"field":"c","type":"quantitative","scale":{"domain":[-10100,212100],"nice":false,"zero":false},"axis":null},"color":{"field":"L","type":"nominal","title":"PAR (µE)","scale":{"domain":[30,100,300],"range":["#F8766D","#00BA38","#619CFF"]}}}},
{"width":171,"height":128,"transform":[{"filter":"datum.P=='5'&&datum.N=='0'"}],"mark":{"type":"circle","size":30,"opacity":1},"encoding":{"x":{"field":"t","type":"quantitative","scale":{"domain":[-13.9,291.9],"nice":false,"zero":false},"axis":{"orient":"top","labels":false,"ticks":false,"domain":true,"domainColor":"#D9D9D9","domainWidth":24,"offset":12.5,"title":"5 µM PO4","titleY":0,"titleBaseline":"middle","titleFontSize":14,"titleColor":"#1A1A1A"}},"y":{"field":"c","type":"quantitative","scale":{"domain":[-10100,212100],"nice":false,"zero":false},"axis":null},"color":{"field":"L","type":"nominal","title":"PAR (µE)","scale":{"domain":[30,100,300],"range":["#F8766D","#00BA38","#619CFF"]}}}},
{"width":171,"height":128,"transform":[{"filter":"datum.P=='7'&&datum.N=='0'"}],"mark":{"type":"circle","size":30,"opacity":1},"encoding":{"x":{"field":"t","type":"quantitative","scale":{"domain":[-13.9,291.9],"nice":false,"zero":false},"axis":{"orient":"top","labels":false,"ticks":false,"domain":true,"domainColor":"#D9D9D9","domainWidth":24,"offset":12.5,"title":"7 µM PO4","titleY":0,"titleBaseline":"middle","titleFontSize":14,"titleColor":"#1A1A1A"}},"y":{"field":"c","type":"quantitative","scale":{"domain":[-10100,212100],"nice":false,"zero":false},"axis":{"orient":"right","labels":false,"ticks":false,"domain":true,"domainColor":"#D9D9D9","domainWidth":25,"offset":13,"title":"0 µM NO3","titleX":0,"titleAngle":90,"titleBaseline":"middle","titleFontSize":14,"titleColor":"#1A1A1A"}},"color":{"field":"L","type":"nominal","title":"PAR (µE)","scale":{"domain":[30,100,300],"range":["#F8766D","#00BA38","#619CFF"]}}}},

{"width":171,"height":128,"transform":[{"filter":"datum.P=='0'&&datum.N=='5'"}],"mark":{"type":"circle","size":30,"opacity":1},"encoding":{"x":{"field":"t","type":"quantitative","scale":{"domain":[-13.9,291.9],"nice":false,"zero":false},"axis":null},"y":{"field":"c","type":"quantitative","scale":{"domain":[-10100,212100],"nice":false,"zero":false},"axis":{"orient":"left","values":[0,50000,100000,150000,200000],"format":"d","title":"CellCount","titleY":131.5,"titlePadding":5,"titleFontSize":18}},"color":{"field":"L","type":"nominal","title":"PAR (µE)","scale":{"domain":[30,100,300],"range":["#F8766D","#00BA38","#619CFF"]}}}},
{"width":171,"height":128,"transform":[{"filter":"datum.P=='0.5'&&datum.N=='5'"}],"mark":{"type":"circle","size":30,"opacity":1},"encoding":{"x":{"field":"t","type":"quantitative","scale":{"domain":[-13.9,291.9],"nice":false,"zero":false},"axis":null},"y":{"field":"c","type":"quantitative","scale":{"domain":[-10100,212100],"nice":false,"zero":false},"axis":null},"color":{"field":"L","type":"nominal","title":"PAR (µE)","scale":{"domain":[30,100,300],"range":["#F8766D","#00BA38","#619CFF"]}}}},
{"width":171,"height":128,"transform":[{"filter":"datum.P=='3'&&datum.N=='5'"}],"mark":{"type":"circle","size":30,"opacity":1},"encoding":{"x":{"field":"t","type":"quantitative","scale":{"domain":[-13.9,291.9],"nice":false,"zero":false},"axis":null},"y":{"field":"c","type":"quantitative","scale":{"domain":[-10100,212100],"nice":false,"zero":false},"axis":null},"color":{"field":"L","type":"nominal","title":"PAR (µE)","scale":{"domain":[30,100,300],"range":["#F8766D","#00BA38","#619CFF"]}}}},
{"width":171,"height":128,"transform":[{"filter":"datum.P=='5'&&datum.N=='5'"}],"mark":{"type":"circle","size":30,"opacity":1},"encoding":{"x":{"field":"t","type":"quantitative","scale":{"domain":[-13.9,291.9],"nice":false,"zero":false},"axis":null},"y":{"field":"c","type":"quantitative","scale":{"domain":[-10100,212100],"nice":false,"zero":false},"axis":null},"color":{"field":"L","type":"nominal","title":"PAR (µE)","scale":{"domain":[30,100,300],"range":["#F8766D","#00BA38","#619CFF"]}}}},
{"width":171,"height":128,"transform":[{"filter":"datum.P=='7'&&datum.N=='5'"}],"mark":{"type":"circle","size":30,"opacity":1},"encoding":{"x":{"field":"t","type":"quantitative","scale":{"domain":[-13.9,291.9],"nice":false,"zero":false},"axis":null},"y":{"field":"c","type":"quantitative","scale":{"domain":[-10100,212100],"nice":false,"zero":false},"axis":{"orient":"right","labels":false,"ticks":false,"domain":true,"domainColor":"#D9D9D9","domainWidth":25,"offset":13,"title":"5 µM NO3","titleX":0,"titleAngle":90,"titleBaseline":"middle","titleFontSize":14,"titleColor":"#1A1A1A"}},"color":{"field":"L","type":"nominal","title":"PAR (µE)","scale":{"domain":[30,100,300],"range":["#F8766D","#00BA38","#619CFF"]}}}},

{"width":171,"height":128,"transform":[{"filter":"datum.P=='0'&&datum.N=='30'"}],"mark":{"type":"circle","size":30,"opacity":1},"encoding":{"x":{"field":"t","type":"quantitative","scale":{"domain":[-13.9,291.9],"nice":false,"zero":false},"axis":null},"y":{"field":"c","type":"quantitative","scale":{"domain":[-10100,212100],"nice":false,"zero":false},"axis":{"orient":"left","values":[0,50000,100000,150000,200000],"format":"d","title":null}},"color":{"field":"L","type":"nominal","title":"PAR (µE)","scale":{"domain":[30,100,300],"range":["#F8766D","#00BA38","#619CFF"]}}}},
{"width":171,"height":128,"transform":[{"filter":"datum.P=='0.5'&&datum.N=='30'"}],"mark":{"type":"circle","size":30,"opacity":1},"encoding":{"x":{"field":"t","type":"quantitative","scale":{"domain":[-13.9,291.9],"nice":false,"zero":false},"axis":null},"y":{"field":"c","type":"quantitative","scale":{"domain":[-10100,212100],"nice":false,"zero":false},"axis":null},"color":{"field":"L","type":"nominal","title":"PAR (µE)","scale":{"domain":[30,100,300],"range":["#F8766D","#00BA38","#619CFF"]}}}},
{"width":171,"height":128,"transform":[{"filter":"datum.P=='3'&&datum.N=='30'"}],"mark":{"type":"circle","size":30,"opacity":1},"encoding":{"x":{"field":"t","type":"quantitative","scale":{"domain":[-13.9,291.9],"nice":false,"zero":false},"axis":null},"y":{"field":"c","type":"quantitative","scale":{"domain":[-10100,212100],"nice":false,"zero":false},"axis":null},"color":{"field":"L","type":"nominal","title":"PAR (µE)","scale":{"domain":[30,100,300],"range":["#F8766D","#00BA38","#619CFF"]}}}},
{"width":171,"height":128,"transform":[{"filter":"datum.P=='5'&&datum.N=='30'"}],"mark":{"type":"circle","size":30,"opacity":1},"encoding":{"x":{"field":"t","type":"quantitative","scale":{"domain":[-13.9,291.9],"nice":false,"zero":false},"axis":null},"y":{"field":"c","type":"quantitative","scale":{"domain":[-10100,212100],"nice":false,"zero":false},"axis":null},"color":{"field":"L","type":"nominal","title":"PAR (µE)","scale":{"domain":[30,100,300],"range":["#F8766D","#00BA38","#619CFF"]}}}},
{"width":171,"height":128,"transform":[{"filter":"datum.P=='7'&&datum.N=='30'"}],"mark":{"type":"circle","size":30,"opacity":1},"encoding":{"x":{"field":"t","type":"quantitative","scale":{"domain":[-13.9,291.9],"nice":false,"zero":false},"axis":null},"y":{"field":"c","type":"quantitative","scale":{"domain":[-10100,212100],"nice":false,"zero":false},"axis":{"orient":"right","labels":false,"ticks":false,"domain":true,"domainColor":"#D9D9D9","domainWidth":25,"offset":13,"title":"30 µM NO3","titleX":0,"titleAngle":90,"titleBaseline":"middle","titleFontSize":14,"titleColor":"#1A1A1A"}},"color":{"field":"L","type":"nominal","title":"PAR (µE)","scale":{"domain":[30,100,300],"range":["#F8766D","#00BA38","#619CFF"]}}}},

{"width":171,"height":128,"transform":[{"filter":"datum.P=='0'&&datum.N=='70'"}],"mark":{"type":"circle","size":30,"opacity":1},"encoding":{"x":{"field":"t","type":"quantitative","scale":{"domain":[-13.9,291.9],"nice":false,"zero":false},"axis":{"orient":"bottom","values":[0,100,200],"labelFontSize":13,"title":null}},"y":{"field":"c","type":"quantitative","scale":{"domain":[-10100,212100],"nice":false,"zero":false},"axis":{"orient":"left","values":[0,50000,100000,150000,200000],"format":"d","title":null}},"color":{"field":"L","type":"nominal","title":"PAR (µE)","scale":{"domain":[30,100,300],"range":["#F8766D","#00BA38","#619CFF"]}}}},
{"width":171,"height":128,"transform":[{"filter":"datum.P=='0.5'&&datum.N=='70'"}],"mark":{"type":"circle","size":30,"opacity":1},"encoding":{"x":{"field":"t","type":"quantitative","scale":{"domain":[-13.9,291.9],"nice":false,"zero":false},"axis":{"orient":"bottom","values":[0,100,200],"labelFontSize":13,"title":null}},"y":{"field":"c","type":"quantitative","scale":{"domain":[-10100,212100],"nice":false,"zero":false},"axis":null},"color":{"field":"L","type":"nominal","title":"PAR (µE)","scale":{"domain":[30,100,300],"range":["#F8766D","#00BA38","#619CFF"]}}}},
{"width":171,"height":128,"transform":[{"filter":"datum.P=='3'&&datum.N=='70'"}],"mark":{"type":"circle","size":30,"opacity":1},"encoding":{"x":{"field":"t","type":"quantitative","scale":{"domain":[-13.9,291.9],"nice":false,"zero":false},"axis":{"orient":"bottom","values":[0,100,200],"labelFontSize":13,"title":"Elapsed time (hr)","titleFontSize":18,"titlePadding":5}},"y":{"field":"c","type":"quantitative","scale":{"domain":[-10100,212100],"nice":false,"zero":false},"axis":null},"color":{"field":"L","type":"nominal","title":"PAR (µE)","scale":{"domain":[30,100,300],"range":["#F8766D","#00BA38","#619CFF"]}}}},
{"width":171,"height":128,"transform":[{"filter":"datum.P=='5'&&datum.N=='70'"}],"mark":{"type":"circle","size":30,"opacity":1},"encoding":{"x":{"field":"t","type":"quantitative","scale":{"domain":[-13.9,291.9],"nice":false,"zero":false},"axis":{"orient":"bottom","values":[0,100,200],"labelFontSize":13,"title":null}},"y":{"field":"c","type":"quantitative","scale":{"domain":[-10100,212100],"nice":false,"zero":false},"axis":null},"color":{"field":"L","type":"nominal","title":"PAR (µE)","scale":{"domain":[30,100,300],"range":["#F8766D","#00BA38","#619CFF"]}}}},
{"width":171,"height":128,"transform":[{"filter":"datum.P=='7'&&datum.N=='70'"}],"mark":{"type":"circle","size":30,"opacity":1},"encoding":{"x":{"field":"t","type":"quantitative","scale":{"domain":[-13.9,291.9],"nice":false,"zero":false},"axis":{"orient":"bottom","values":[0,100,200],"labelFontSize":13,"title":null}},"y":{"field":"c","type":"quantitative","scale":{"domain":[-10100,212100],"nice":false,"zero":false},"axis":{"orient":"right","labels":false,"ticks":false,"domain":true,"domainColor":"#D9D9D9","domainWidth":25,"offset":13,"title":"70 µM NO3","titleX":0,"titleAngle":90,"titleBaseline":"middle","titleFontSize":14,"titleColor":"#1A1A1A"}},"color":{"field":"L","type":"nominal","title":"PAR (µE)","scale":{"domain":[30,100,300],"range":["#F8766D","#00BA38","#619CFF"]}}}}
],
"config":{
"font":"Liberation Sans",
"view":{"stroke":"#A0A0A0","strokeWidth":1},
"axis":{"grid":false,"domain":false,"tickColor":"#333333","tickSize":3.7,"tickWidth":1,"labelFontSize":12.5,"labelColor":"#4D4D4D","labelPadding":2,"titleFontWeight":"normal","titleColor":"#000000","titleFontSize":18,"labelFont":"Liberation Sans","titleFont":"Liberation Sans"},
"legend":{"orient":"none","legendX":927,"legendY":223,"titleFontSize":17,"titleFontWeight":"normal","titleColor":"#000000","titleFont":"Liberation Sans","labelFont":"Liberation Sans","labelFontSize":15,"labelColor":"#000000","symbolSize":25,"symbolType":"circle","symbolOffset":3,"labelOffset":7,"rowPadding":7,"titlePadding":15}
}
}
